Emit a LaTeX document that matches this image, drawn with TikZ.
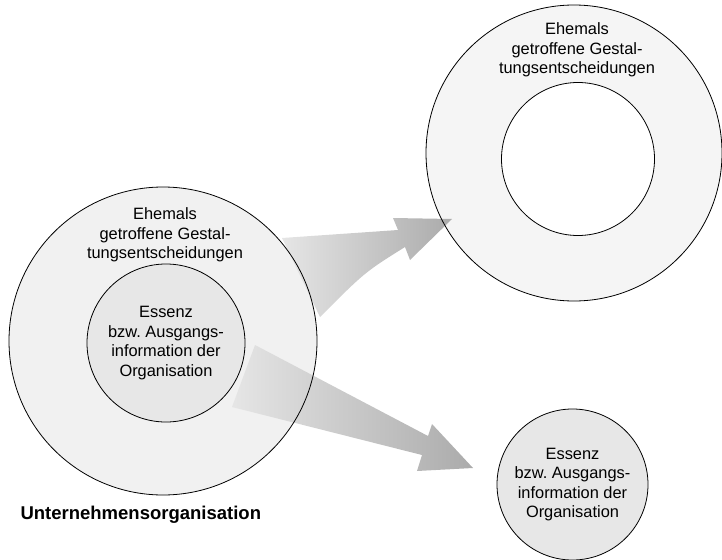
\documentclass[tikz,border=0pt]{standalone}
\usepackage{fontspec}
\setmainfont{Liberation Sans}
\usetikzlibrary{shapes.geometric}
\tikzstyle{ring} = [circle, inner sep=0pt,
  fill=gray!11]
\tikzstyle{core} = [circle, inner sep=0pt,
  text centered, align=center,
  font=\fontsize{16.4}{19.5}\selectfont,
  fill=gray!19]
\tikzstyle{hole} = [circle, inner sep=0pt,
  fill=white]
\tikzstyle{rim} = [circle, inner sep=0pt,
  draw=black, line width=0.8pt]
\tikzstyle{ctext} = [align=center,
  font=\fontsize{16.4}{19.5}\selectfont]
\tikzstyle{titletext} = [anchor=west,
  font=\fontsize{18.5}{22}\selectfont\bfseries]
\tikzstyle{fatarrow} = [left color=gray!20, right color=gray!66]

\begin{document}
\begin{tikzpicture}[x=1pt, y=-1pt]
\useasboundingbox (0,0) rectangle (722,559);

%% ---- LEFT: UNTERNEHMENSORGANISATION ----
\node (orgring) [ring, minimum size=308pt] at (163, 341) {};
\node (orgcore) [core, minimum size=158pt] at (166, 343)
  {Essenz\\bzw.\ Ausgangs-\\information der\\Organisation};
\node (orgtext) [ctext] at (165, 235)
  {Ehemals\\getroffene Gestal-\\tungsentscheidungen};
\node (orgtitle) [titletext] at (17, 515) {Unternehmensorganisation};

%% ---- RIGHT TOP: ONLY THE DECISIONS ----
\node (decring) [ring, minimum size=296pt, fill=gray!8] at (574, 153) {};
\node (dechole) [hole, minimum size=153pt] at (578, 159) {};
\node (dectext) [ctext] at (577, 50)
  {Ehemals\\getroffene Gestal-\\tungsentscheidungen};

%% ---- RIGHT BOTTOM: ONLY THE ESSENCE ----
\node (esscore) [core, minimum size=151pt] at (572.5, 484.5)
  {Essenz\\bzw.\ Ausgangs-\\information der\\Organisation};

%% ---- FAT ARROWS ----
\coordinate (up_a) at (282, 238);
\coordinate (up_b) at (320, 317);
\coordinate (up_tip) at (452, 219);
\coordinate (lo_a) at (255, 345);
\coordinate (lo_b) at (232, 407);
\coordinate (lo_tip) at (473, 468);

\path[fatarrow] (up_a) -- (398, 230) -- (393, 218) -- (up_tip)
  -- (410, 260) -- (405, 247) .. controls (365, 272) .. (up_b) -- cycle;
\path[fatarrow] (lo_a) -- (428, 436) -- (432, 424) -- (lo_tip)
  -- (417, 471) -- (422, 455) -- (lo_b) -- cycle;

%% ---- OUTLINES ----
\node [rim, minimum size=308pt] at (orgring) {};
\node [rim, minimum size=158pt] at (orgcore) {};
\node [rim, minimum size=296pt] at (decring) {};
\node [rim, minimum size=153pt] at (dechole) {};
\node [rim, minimum size=151pt] at (esscore) {};

\end{tikzpicture}
\end{document}
